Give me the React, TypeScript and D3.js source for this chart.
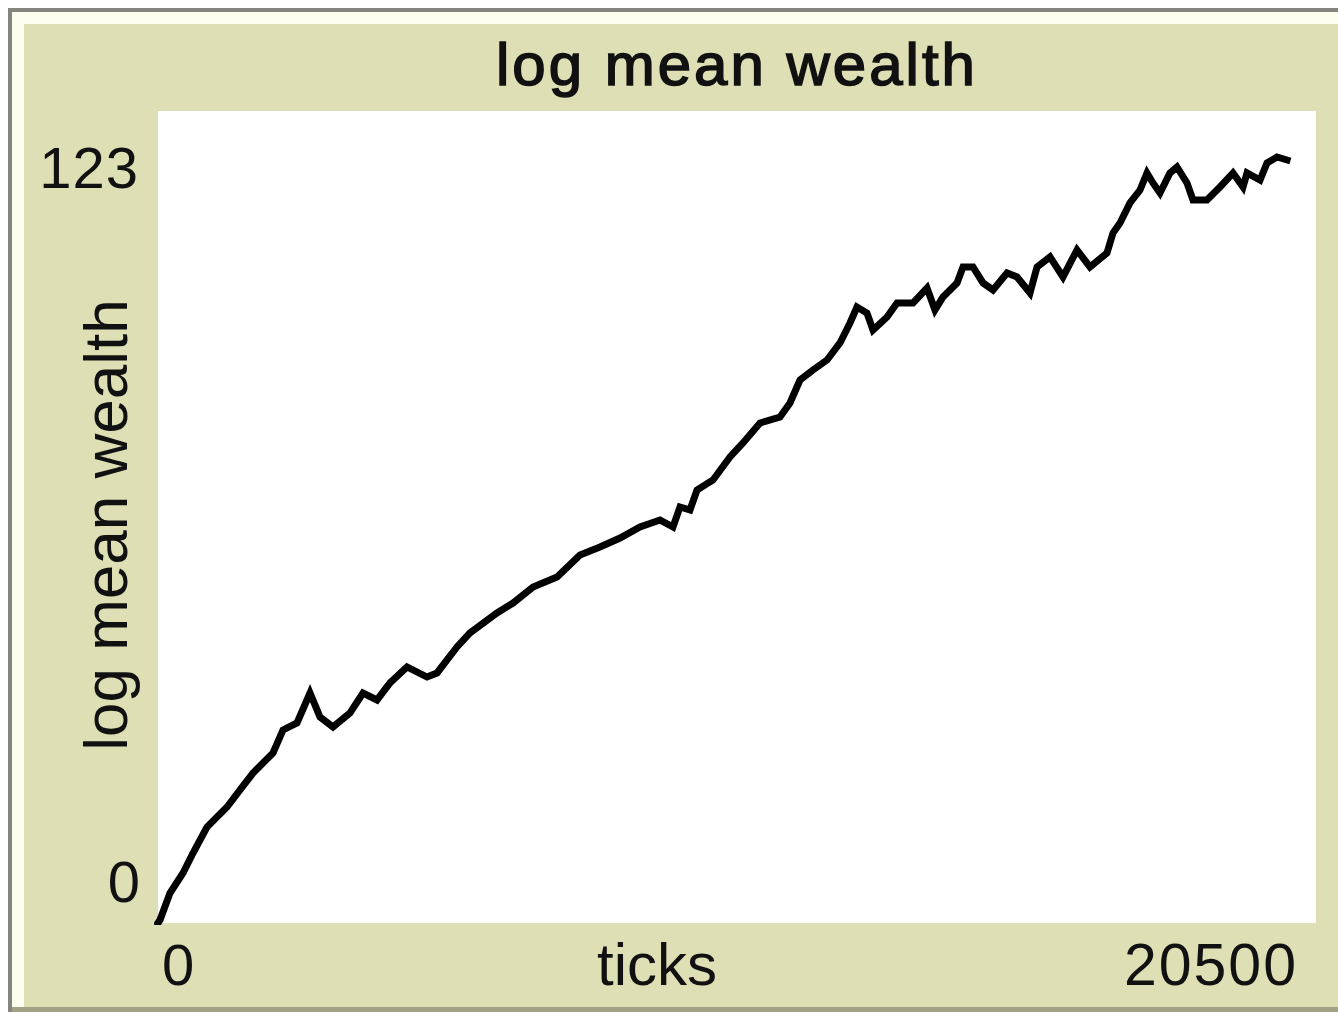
import React from "react";
import * as d3 from "d3";

const tickValues: number[] = [
  35, 212, 443, 620, 867, 1222, 1452, 1682, 2036, 2213, 2461, 2691, 2868, 3098,
  3399, 3629, 3877, 4107, 4408, 4762, 4939, 5293, 5523, 6001, 6285, 6639, 7064,
  7471, 7825, 8179, 8533, 8887, 9117, 9241, 9418, 9542, 9825, 10126, 10356,
  10657, 11011, 11188, 11365, 11595, 11843, 12073, 12250, 12374, 12551, 12658,
  12906, 13083, 13366, 13614, 13755, 13897, 14145, 14251, 14428, 14605, 14782,
  15030, 15207, 15437, 15561, 15791, 16021, 16269, 16499, 16800, 16906, 17030,
  17207, 17384, 17508, 17614, 17738, 17915, 18039, 18216, 18322, 18570, 18800,
  19031, 19208, 19279, 19509, 19633, 19810, 19987,
];

const logMeanWealth: number[] = [
  0.45, 4.54, 7.57, 10.6, 14.54, 17.57, 20.15, 22.72, 25.75, 29.24, 30.3, 34.84,
  31.2, 29.69, 31.81, 34.84, 33.78, 36.36, 38.78, 37.26, 37.87, 41.81, 43.93,
  46.96, 48.47, 50.9, 52.41, 55.74, 56.96, 58.32, 59.99, 61.05, 59.99, 63.02,
  62.56, 65.59, 67.11, 70.59, 72.71, 75.74, 76.65, 78.77, 82.25, 83.77, 85.28,
  87.86, 90.89, 93.31, 92.4, 89.83, 91.8, 93.92, 93.92, 96.19, 92.86, 94.83,
  96.95, 99.37, 99.37, 96.95, 95.89, 98.46, 97.86, 95.43, 99.37, 100.89, 97.86,
  101.95, 99.37, 101.49, 104.52, 106.04, 109.07, 111.03, 113.61, 112.1, 110.58,
  113.61, 114.52, 112.1, 109.52, 109.52, 111.49, 113.61, 111.49, 113.61, 112.55,
  115.12, 116.03, 115.58,
];

const xDomain: [number, number] = [0, 20500];
const yDomain: [number, number] = [0, 123];
const xTickLabels: string[] = ["0", "20500"];
const yTickLabels: string[] = ["0", "123"];
const titleText = "log mean wealth";
const xAxisTitle = "ticks";
const yAxisTitle = "log mean wealth";

export default function App() {
  const W = 1338;
  const H = 1012;
  const plot = { left: 158, right: 1316, top: 111, bottom: 923 };
  const x = d3.scaleLinear().domain(xDomain).range([plot.left, plot.right]);
  const y = d3.scaleLinear().domain(yDomain).range([plot.bottom, plot.top]);
  const pts: [number, number][] = [[0, 0], ...tickValues.map((t, i) => [t, logMeanWealth[i]] as [number, number])];
  const line = d3
    .line<[number, number]>()
    .x((d) => x(d[0]))
    .y((d) => y(d[1]));

  const font = "'Liberation Sans', Arial, sans-serif";
  const bg = "#DFDFB6";

  return (
    <svg
      width={W}
      height={H}
      style={{ position: "absolute", left: 0, top: 0, display: "block" }}
      xmlns="http://www.w3.org/2000/svg"
    >
      <rect x={0} y={0} width={W} height={H} fill="#ffffff" />
      {/* widget frame */}
      <rect x={8} y={8} width={W - 8} height={H - 8} fill="#85857f" />
      <rect x={12} y={12} width={W - 12} height={1007 - 12} fill="#FEFEF0" />
      <rect x={24} y={24} width={W - 24} height={1007 - 24} fill={bg} />
      <rect x={12} y={1007} width={W - 12} height={5} fill="#A2A285" />
      {/* plot area */}
      <rect
        x={plot.left}
        y={plot.top}
        width={plot.right - plot.left}
        height={plot.bottom - plot.top}
        fill="#ffffff"
      />
      <clipPath id="clip">
        <rect x={plot.left - 4} y={plot.top} width={plot.right - plot.left + 4} height={plot.bottom - plot.top + 2} />
      </clipPath>
      <path
        d={line(pts) || ""}
        fill="none"
        stroke="#000"
        strokeWidth={7}
        strokeLinejoin="miter"
        strokeLinecap="square"
        clipPath="url(#clip)"
      />
      {/* title */}
      <text
        x={737}
        y={85}
        textAnchor="middle"
        fontFamily={font}
        fontSize={60}
        letterSpacing={3}
        fill="#111"
        stroke="#111"
        strokeWidth={1.6}
      >
        {titleText}
      </text>
      {/* y tick labels */}
      <text x={139} y={188} textAnchor="end" fontFamily={font} fontSize={58} letterSpacing={1} fill="#111">
        {yTickLabels[1]}
      </text>
      <text x={140} y={902} textAnchor="end" fontFamily={font} fontSize={58} fill="#111">
        {yTickLabels[0]}
      </text>
      {/* x tick labels */}
      <text x={162} y={985} textAnchor="start" fontFamily={font} fontSize={58} fill="#111">
        {xTickLabels[0]}
      </text>
      <text x={1298} y={985} textAnchor="end" fontFamily={font} fontSize={59} letterSpacing={2} fill="#111">
        {xTickLabels[1]}
      </text>
      <text x={657} y={985} textAnchor="middle" fontFamily={font} fontSize={60} fill="#111">
        {xAxisTitle}
      </text>
      {/* y axis title */}
      <text
        transform={`translate(127,525) rotate(-90)`}
        textAnchor="middle"
        fontFamily={font}
        fontSize={62}
        fill="#111"
      >
        {yAxisTitle}
      </text>
    </svg>
  );
}
